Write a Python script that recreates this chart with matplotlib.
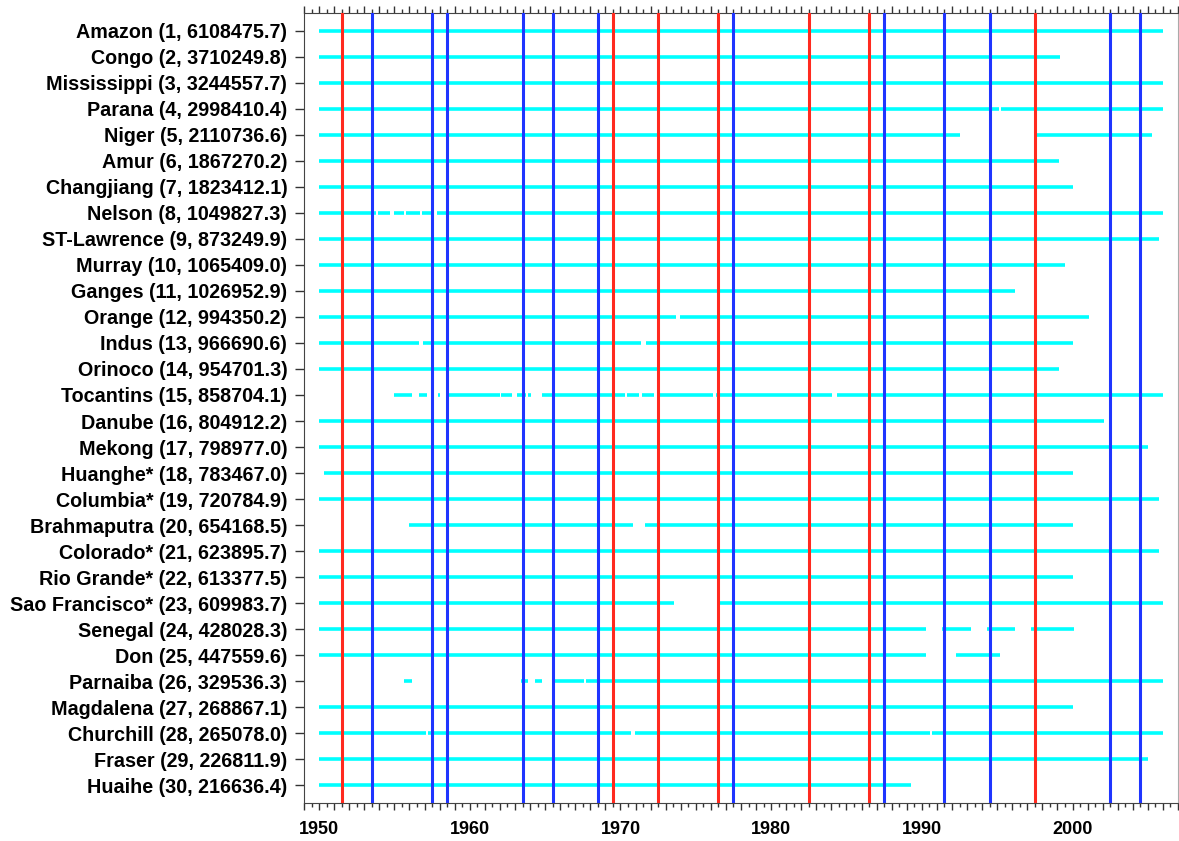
import numpy as np
import matplotlib
matplotlib.use('Agg')
import matplotlib.pyplot as plt
from matplotlib.ticker import MultipleLocator, FuncFormatter

plt.rcParams['font.family'] = ['Liberation Sans', 'DejaVu Sans']

# river names, rank and drainage area
rivers = ['Amazon', 'Congo', 'Mississippi', 'Parana', 'Niger', 'Amur', 'Changjiang',
          'Nelson', 'ST-Lawrence', 'Murray', 'Ganges', 'Orange', 'Indus', 'Orinoco',
          'Tocantins', 'Danube', 'Mekong', 'Huanghe*', 'Columbia*', 'Brahmaputra',
          'Colorado*', 'Rio Grande*', 'Sao Francisco*', 'Senegal', 'Don', 'Parnaiba',
          'Magdalena', 'Churchill', 'Fraser', 'Huaihe']
areas = [6108475.7, 3710249.8, 3244557.7, 2998410.4, 2110736.6, 1867270.2, 1823412.1,
         1049827.3, 873249.9, 1065409.0, 1026952.9, 994350.2, 966690.6, 954701.3,
         858704.1, 804912.2, 798977.0, 783467.0, 720784.9, 654168.5,
         623895.7, 613377.5, 609983.7, 428028.3, 447559.6, 329536.3,
         268867.1, 265078.0, 226811.9, 216636.4]

# periods with available records (decimal years)
records = [
    [(1950, 2006)],
    [(1950, 1999.2)],
    [(1950, 2006)],
    [(1950, 1995.1), (1995.25, 2006)],
    [(1950, 1992.5), (1997.6, 2005.3)],
    [(1950, 1999.1)],
    [(1950, 2000)],
    [(1950, 1953.8), (1953.9, 1954.7), (1954.95, 1955.65), (1955.8, 1956.7),
     (1956.85, 1957.45), (1957.8, 2006)],
    [(1950, 2005.75)],
    [(1950, 1999.5)],
    [(1950, 1996.2)],
    [(1950, 1973.7), (1973.95, 2001.1)],
    [(1950, 1956.6), (1956.9, 1971.35), (1971.7, 2000)],
    [(1950, 1999.1)],
    [(1954.95, 1956.2), (1956.6, 1957.15), (1957.9, 1958.05), (1958.5, 1962.0),
     (1962.1, 1962.8), (1963.15, 1963.75), (1963.85, 1964.05), (1964.8, 1970.3),
     (1970.45, 1971.2), (1971.4, 1972.2), (1972.4, 1976.15), (1976.35, 1984.05),
     (1984.4, 2006)],
    [(1950, 2002.1)],
    [(1950, 2005)],
    [(1950.35, 2000)],
    [(1950, 2005.75)],
    [(1955.95, 1970.8), (1971.65, 2000)],
    [(1950, 2005.75)],
    [(1950, 2000)],
    [(1950, 1973.55), (1976.6, 2006)],
    [(1950, 1990.3), (1991.35, 1993.25), (1994.3, 1996.2), (1997.25, 2000.1)],
    [(1950, 1990.3), (1992.3, 1995.2)],
    [(1955.65, 1956.15), (1963.4, 1963.85), (1964.35, 1964.8), (1965.6, 1967.6),
     (1967.7, 2006)],
    [(1950, 2000)],
    [(1950, 1957.1), (1957.25, 1970.7), (1970.95, 1990.55), (1990.7, 2006)],
    [(1950, 2005)],
    [(1950, 1989.3)],
]

# El Nino (red) and La Nina (blue) years
warm_years = [1951, 1969, 1972, 1976, 1982, 1986, 1997]
cold_years = [1953, 1957, 1958, 1963, 1965, 1968, 1977, 1987, 1991, 1994, 2002, 2004]

labels = ['%s (%d, %.1f)' % (n, i + 1, a) for i, (n, a) in enumerate(zip(rivers, areas))]

fig = plt.figure(figsize=(11.79, 8.41), dpi=100)
ax = fig.add_axes([304 / 1179, 38 / 841, 874 / 1179, 790 / 841])

for i, segs in enumerate(records):
    for s, e in segs:
        ax.hlines(i + 1, s, e, colors='#00ffff', linewidth=2.6, capstyle='butt', zorder=2)

for yr in warm_years:
    ax.axvline(yr + 0.5, color='#ff2a1f', linewidth=2.2, zorder=3)
for yr in cold_years:
    ax.axvline(yr + 0.5, color='#1f35ff', linewidth=2.2, zorder=3)

ax.set_xlim(1949, 2007)
ax.set_ylim(30.69, 0.31)

ax.set_yticks(np.arange(1, len(rivers) + 1))
ax.set_yticklabels(labels, fontsize=14.2, fontweight='bold')
ax.tick_params(axis='y', which='major', direction='out', length=6.5, width=1,
               color='#333333', pad=5.5, right=True)

ax.xaxis.set_major_locator(MultipleLocator(1))
ax.xaxis.set_minor_locator(MultipleLocator(0.5))
ax.xaxis.set_major_formatter(FuncFormatter(lambda v, p: '%d' % v if int(round(v)) % 10 == 0 else ''))
ax.tick_params(axis='x', which='major', direction='out', length=5, width=1,
               color='#333333', top=True, labelsize=13, pad=8)
ax.tick_params(axis='x', which='minor', direction='out', length=3, width=1,
               color='#333333', top=True)
for lab in ax.get_xticklabels():
    lab.set_fontweight('bold')

for side in ['left', 'bottom', 'top']:
    ax.spines[side].set_color('#444444')
ax.spines['right'].set_color('#aaaaaa')

fig.savefig('out.png', dpi=100)
